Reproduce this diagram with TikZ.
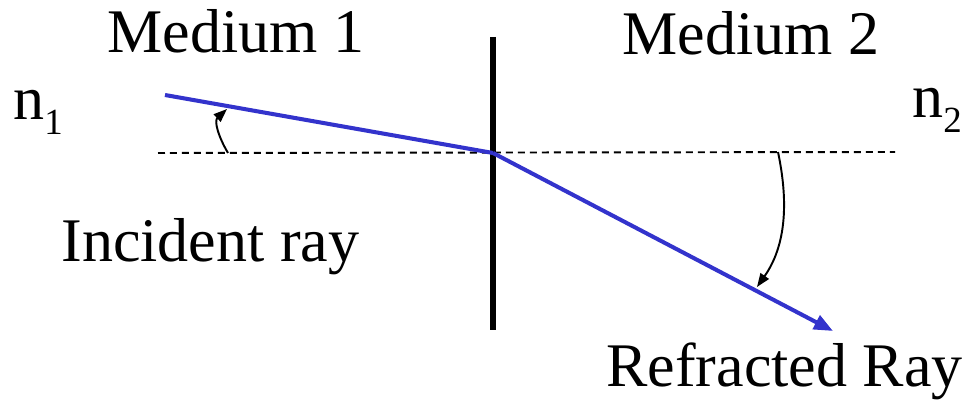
\documentclass[tikz,border=0pt]{standalone}
\usepackage{fontspec}
\setmainfont{Liberation Serif}
\usetikzlibrary{arrows.meta}
\definecolor{rayblue}{RGB}{51,51,204}
\newcommand{\lowsub}[1]{\raisebox{-8.5pt}{\fontsize{21}{22}\selectfont #1}}

\begin{document}
\begin{tikzpicture}[
  x=0.02cm, y=-0.02cm,
  every node/.style={inner sep=0pt, anchor=base west, font=\fontsize{35.3}{42}\selectfont},
  ray/.style={line width=2.3pt, rayblue},
  normal/.style={line width=1.1pt, dash pattern=on 0.14cm off 0.1cm},
  angle arrow/.style={-{Triangle[length=0.27cm,width=0.2cm]}, line width=1.1pt}
]
\useasboundingbox (0,0) rectangle (975,401);
\coordinate (O) at (493,153);
\coordinate (src) at (165,95);
\coordinate (tip) at (833,331);
\coordinate (wallTop) at (493,37);
\coordinate (wallBot) at (493,330);
\coordinate (normL) at (158,153);
\coordinate (normR) at (895,152);
\coordinate (incA) at (228,153);
\coordinate (incB) at (227,109);
\coordinate (refA) at (778,152);
\coordinate (refB) at (757,287);
\draw[normal] (normL)--(normR);
\draw[line width=3.4pt] (wallTop)--(wallBot);
\draw[ray] (src)--(O);
\draw[ray, -{Triangle[length=0.38cm,width=0.3cm]}] (O)--(tip);
\draw[angle arrow] (incA) .. controls (218,136) and (214,121) .. (incB);
\draw[angle arrow] (refA) .. controls (786,190) and (790,240) .. (refB);
\node (med1) at (107,53) {Medium 1};
\node (med2) at (622,55) {Medium 2};
\node (n1) at (13,120) {n\lowsub{1}};
\node (n2) at (912,118) {n\lowsub{2}};
\node (inc) at (61,262) {Incident ray};
\node (refr) at (606,387) {Refracted Ray};
\end{tikzpicture}
\end{document}
